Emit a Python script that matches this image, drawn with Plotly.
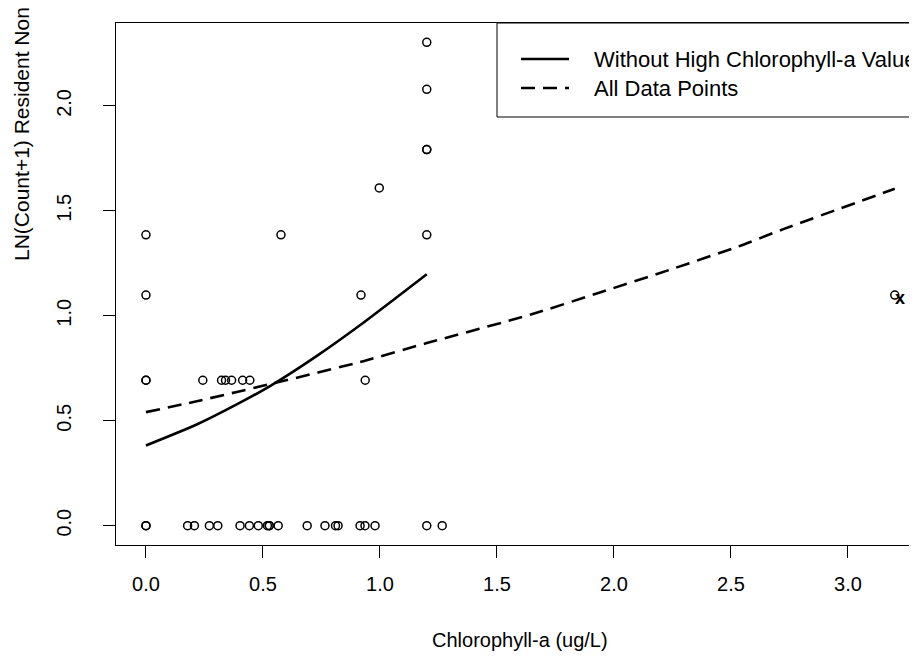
import plotly.graph_objects as go

# ---- data ----
# observed points: one list of chlorophyll values per LN(count+1) level
lvl_0 = [0, 0, 0.178, 0.207, 0.271, 0.307, 0.402, 0.442, 0.480, 0.519, 0.527, 0.527,
         0.565, 0.689, 0.765, 0.810, 0.821, 0.915, 0.936, 0.979, 1.2, 1.266]
lvl_ln2 = [0, 0, 0.243, 0.323, 0.340, 0.366, 0.413, 0.444, 0.937]
lvl_ln3 = [0, 0.919, 3.2]
lvl_ln4 = [0, 0.577, 1.2]
lvl_ln5 = [0.997]
lvl_ln6 = [1.2, 1.2]
lvl_ln8 = [1.2]
lvl_ln10 = [1.2]
level_values = [0.0, 0.693, 1.099, 1.386, 1.609, 1.792, 2.079, 2.303]

# fitted curves
fit_solid_x = [0, 0.217, 0.402, 0.530, 0.729, 0.929, 1.2]
fit_solid_y = [0.382, 0.482, 0.586, 0.665, 0.808, 0.967, 1.198]
fit_dash_x = [0, 0.217, 0.544, 0.929, 1.2, 1.648, 1.94, 2.235, 2.531, 2.724, 3.2]
fit_dash_y = [0.541, 0.593, 0.678, 0.784, 0.870, 1.007, 1.111, 1.218, 1.33, 1.413, 1.605]

# highlighted high-chlorophyll point label
mark_x = [3.222]
mark_y = [1.08]
mark_text = ["x"]

x_ticks = [0, 0.5, 1.0, 1.5, 2.0, 2.5, 3.0]
x_ticklabels = ["0.0", "0.5", "1.0", "1.5", "2.0", "2.5", "3.0"]
y_ticks = [0, 0.5, 1.0, 1.5, 2.0]
y_ticklabels = ["0.0", "0.5", "1.0", "1.5", "2.0"]

legend_labels = ["Without High Chlorophyll-a Value", "All Data Points"]
x_title = "Chlorophyll-a (ug/L)"
y_title = "LN(Count+1) Resident Non"

# ---- build ----
FONT = "Liberation Sans, Arial, sans-serif"
OFF = 8  # default page body margin
W, H = 917 - OFF, 662 - OFF
PLOT_L, PLOT_T, PLOT_B = 116, 23, 545  # page pixels
L, T = PLOT_L - OFF, PLOT_T - OFF
B = H - (PLOT_B - OFF)
R = 0
PW, PH = W - L - R, H - T - B


def px(xp):
    return (xp - OFF - L) / PW


def py(yp):
    return (H - B - (yp - OFF)) / PH


pts_x, pts_y = [], []
for xs, yv in zip([lvl_0, lvl_ln2, lvl_ln3, lvl_ln4, lvl_ln5, lvl_ln6, lvl_ln8, lvl_ln10],
                  level_values):
    pts_x += xs
    pts_y += [yv] * len(xs)

fig = go.Figure()
fig.add_trace(go.Scatter(
    x=pts_x, y=pts_y, mode="markers",
    marker=dict(symbol="circle-open", size=8, color="black", line=dict(width=1.5, color="black")),
    showlegend=False, hoverinfo="skip"))
fig.add_trace(go.Scatter(
    x=fit_solid_x, y=fit_solid_y, mode="lines", line=dict(color="black", width=2.6, shape="spline", smoothing=0.6),
    name=legend_labels[0], showlegend=False))
fig.add_trace(go.Scatter(
    x=fit_dash_x, y=fit_dash_y, mode="lines",
    line=dict(color="black", width=2.6, dash="14px,8px", shape="spline", smoothing=0.6),
    name=legend_labels[1], showlegend=False))
fig.add_trace(go.Scatter(
    x=mark_x, y=mark_y, mode="text", text=mark_text,
    textfont=dict(family=FONT, size=18, color="black", weight="bold"),
    textposition="middle center", showlegend=False))

fig.update_xaxes(
    range=[-0.128, 3.295], tickvals=x_ticks, ticktext=x_ticklabels,
    ticks="outside", ticklen=12, tickwidth=1, tickcolor="black",
    showline=True, linecolor="black", linewidth=1, mirror=True,
    showgrid=False, zeroline=False, ticklabelstandoff=9,
    tickfont=dict(family=FONT, size=20, color="black"))
fig.update_yaxes(
    range=[-0.092, 2.395], tickvals=y_ticks, ticktext=y_ticklabels,
    ticks="outside", ticklen=12, tickwidth=1, tickcolor="black",
    showline=True, linecolor="black", linewidth=1, mirror=False,
    showgrid=False, zeroline=False, tickangle=-90, ticklabelstandoff=24,
    tickfont=dict(family=FONT, size=20, color="black"))

shapes = [
    dict(type="rect", xref="paper", yref="paper", x0=px(497), x1=px(940), y0=py(117), y1=py(23),
         line=dict(color="black", width=1), fillcolor="white", layer="above"),
    dict(type="line", xref="paper", yref="paper", x0=px(521), x1=px(569), y0=py(59), y1=py(59),
         line=dict(color="black", width=2.6)),
    dict(type="line", xref="paper", yref="paper", x0=px(521), x1=px(569), y0=py(88), y1=py(88),
         line=dict(color="black", width=2.6, dash="14px,8px")),
]
annotations = [
    dict(xref="paper", yref="paper", x=px(592), y=py(59), text=legend_labels[0], showarrow=False,
         xanchor="left", yanchor="middle", font=dict(family=FONT, size=22, color="black")),
    dict(xref="paper", yref="paper", x=px(592), y=py(88), text=legend_labels[1], showarrow=False,
         xanchor="left", yanchor="middle", font=dict(family=FONT, size=22, color="black")),
    dict(xref="paper", yref="paper", x=px(520), y=py(640), text=x_title, showarrow=False,
         xanchor="center", yanchor="middle", font=dict(family=FONT, size=20, color="black")),
    dict(xref="paper", yref="paper", x=px(21), y=py(263), text=y_title, showarrow=False, textangle=-90,
         xanchor="center", yanchor="bottom", font=dict(family=FONT, size=21, color="black")),
]

fig.update_layout(
    width=W, height=H, margin=dict(l=L, r=R, t=T, b=B, pad=0),
    paper_bgcolor="white", plot_bgcolor="white",
    shapes=shapes, annotations=annotations, showlegend=False)

fig.write_html("out.html")
